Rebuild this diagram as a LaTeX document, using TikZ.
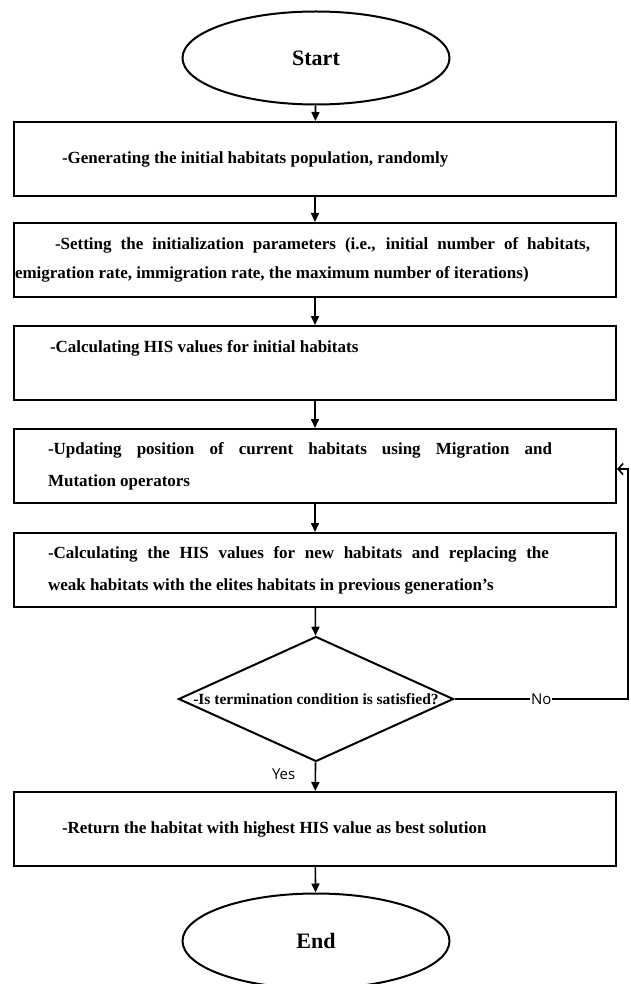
\documentclass[tikz,border=0pt]{standalone}
\usepackage{fontspec}
\setmainfont{Liberation Serif}
\newfontfamily\tagfont{Open Sans}
\usetikzlibrary{shapes.geometric,arrows.meta}
% margins inside a box: left, right, text
\newcommand{\pad}[3]{\leftskip=#1pt\rightskip=#2pt #3\par}

\begin{document}
\begin{tikzpicture}[x=1pt,y=-1pt]
\tikzset{
  stepbox/.style={draw,line width=2pt,minimum width=602pt,minimum height=74pt,
    inner xsep=0pt,text width=602pt,align=justify,
    font=\bfseries\fontsize{17}{32}\selectfont},
  terminal/.style={draw,ellipse,line width=2pt,minimum width=267pt,inner sep=0pt,
    font=\bfseries\fontsize{22}{26}\selectfont},
  decision/.style={draw,diamond,line width=2pt,minimum width=275pt,minimum height=125pt,inner sep=0pt},
  flow/.style={line width=1.6pt,-{Triangle[length=9pt,width=8pt]}},
  tag/.style={font=\tagfont\fontsize{15}{17}\selectfont}
}
\fill[white] (0,0) rectangle (630,984);
\useasboundingbox (0,0) rectangle (630,984);
% terminals
\node[terminal,minimum height=93pt] (start) at (316,58) {Start};
\node[terminal,minimum height=95pt] (end) at (316,941) {End};
% process boxes
\node[stepbox] (box1) at (315,159) {\pad{48}{0}{-Generating the initial habitats population, randomly}};
\node[stepbox,font=\bfseries\fontsize{17}{29}\selectfont] (box2) at (315,260)
  {\pad{1}{26}{\hspace*{40pt}-Setting the initialization parameters (i.e., initial number of habitats,\linebreak emigration rate, immigration rate, the maximum number of iterations)}};
\node[stepbox] (box3) at (315,363) {\pad{36}{0}{-Calculating HIS values for initial habitats\\\mbox{}}};
\node[stepbox] (box4) at (315,466)
  {\pad{34}{64}{-Updating position of current habitats using Migration and\linebreak Mutation operators}};
\node[stepbox] (box5) at (315,570)
  {\pad{34}{67}{-Calculating the HIS values for new habitats and replacing the\linebreak weak habitats with the elites habitats in previous generation's}};
% decision
\node[decision,label={[font=\bfseries\fontsize{15.5}{17}\selectfont]center:-Is termination condition is satisfied?}] (dec) at (316,699) {};
\node[stepbox] (box6) at (315,829) {\pad{48}{0}{-Return the habitat with highest HIS value as best solution}};
% connectors
\foreach \a/\b in {start/box1,box1/box2,box2/box3,box3/box4,box4/box5,box5/dec,box6/end} {
  \draw[flow] (\a) -- (\b);
}
\draw[flow] (dec) -- node[tag,left=16pt,pos=0.4] (yes) {Yes} (box6);
% loop back
\coordinate (turn) at (628,699);
\draw[line width=1.6pt,-{Straight Barb[length=5pt,width=11pt]}] (dec.east) -- node[tag,fill=white,inner sep=1pt] (no) {No} (turn) |- ([yshift=-3pt]box4.east);
\end{tikzpicture}
\end{document}
